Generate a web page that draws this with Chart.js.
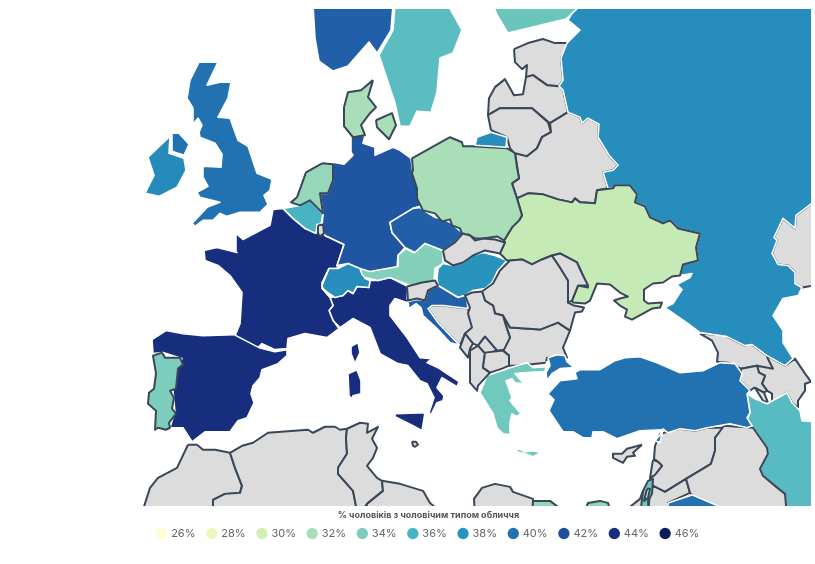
<!DOCTYPE html>
<html><head><meta charset="utf-8">
<script src="https://cdn.jsdelivr.net/npm/chart.js@4"></script>
<style>html,body{margin:0;padding:0;background:#fff}canvas{position:absolute;left:42px;top:0}</style>
</head><body><canvas id="c" width="773" height="564"></canvas>
<script>
const legendTitle = "% чоловіків з чоловічим типом обличчя";
const legendValues = [26,28,30,32,34,36,38,40,42,44,46];
const legendColors = ["#fffdd6","#ecf8b9","#d2efb3","#a9deb8","#7ccdbb","#47b3c3","#2894be","#2272b2","#1f4e9e","#172d7e","#0b1c5a"];

// outlines, in map units
const kazakhstan=[[812,203],[796,215],[795,228],[783,218],[774,237],[777,240],[772,253],[778,264],[788,265],[795,272],[795,283],[802,287],[825,283],[825,200]];
const morocco=[[188,444],[197,444],[203,449],[215,449],[230,452],[235,467],[242,485],[240,492],[225,493],[213,499],[213,515],[141,515],[150,487],[158,477],[177,467]];
const algeria=[[230,452],[242,445],[253,442],[268,432],[308,429],[313,432],[325,426],[335,426],[340,429],[347,428],[346,437],[347,453],[338,467],[338,473],[353,490],[358,515],[213,515],[213,499],[225,493],[240,492],[242,485],[235,467]];
const tunisia=[[347,428],[360,422],[368,423],[367,432],[378,426],[372,438],[377,447],[373,457],[367,465],[377,477],[382,480],[383,490],[367,503],[358,515],[353,490],[338,473],[338,467],[347,453],[346,437]];
const libyaWest=[[382,480],[400,483],[423,490],[430,502],[445,515],[365,515],[367,503],[383,490]];
const libyaEast=[[475,515],[474,498],[482,487],[495,483],[510,486],[513,491],[533,498],[533,515]];
const sinai=[[630,506],[640,498],[643,490],[648,500],[649,515],[630,515]];
const estonia=[[514,49],[528,43],[543,39],[555,43],[567,43],[568,45],[561,58],[563,80],[559,86],[547,85],[533,75],[526,77],[527,65],[522,69],[515,62]];
const latvia=[[488,115],[489,98],[495,87],[505,79],[514,95],[523,94],[526,77],[533,75],[547,85],[559,86],[563,90],[568,112],[550,123],[532,108],[500,108]];
const lithuania=[[491,130],[488,115],[500,108],[532,108],[548,122],[551,132],[542,137],[537,148],[527,156],[517,156],[510,148],[507,137]];
const belarus=[[568,112],[580,117],[582,123],[588,118],[599,124],[598,137],[609,155],[618,165],[613,170],[603,172],[608,188],[597,190],[595,203],[580,202],[575,198],[572,202],[558,199],[543,194],[528,193],[517,198],[512,183],[519,178],[515,153],[527,156],[537,148],[542,137],[551,132],[550,123]];
const bosnia=[[432,305],[443,305],[468,308],[470,317],[473,328],[465,333],[460,345],[438,322],[428,308]];
const bulgaria=[[503,315],[510,327],[525,328],[540,329],[558,322],[570,330],[563,347],[567,357],[547,357],[546,362],[517,365],[509,365],[509,355],[503,350],[510,337],[505,322]];
const georgia=[[700,333],[725,335],[745,345],[752,344],[767,355],[768,358],[773,368],[772,369],[757,365],[741,368],[728,362],[717,361],[718,352],[712,340]];
const azerbaijan=[[767,355],[785,365],[795,358],[805,373],[811,381],[805,383],[805,390],[798,400],[798,407],[792,402],[787,392],[772,402],[772,393],[767,390],[762,383],[765,375],[759,372],[757,365],[773,368],[768,358]];
const armenia=[[741,368],[757,365],[759,372],[765,375],[762,383],[767,390],[764,392],[754,387],[750,390],[740,380]];
const nakhchivan=[[755,387],[764,392],[768,402],[763,400]];
const syria=[[655,445],[660,433],[680,428],[695,430],[707,427],[724,427],[715,437],[715,450],[711,463],[686,478],[665,491],[653,485],[650,478],[655,473],[662,465],[658,461],[654,458]];
const lebanon=[[653,459],[658,461],[662,465],[655,474],[650,477]];
const jordan=[[653,485],[665,491],[686,478],[690,492],[668,502],[668,515],[648,515],[650,490]];
const cyprus=[[642,444],[633,452],[635,455],[627,456],[623,462],[613,457],[613,453],[622,453],[627,448]];
const malta=[[412,441],[416,441],[418,444],[415,446],[413,445]];
const russia=[[577,5],[568,20],[580,30],[567,43],[561,58],[563,80],[559,86],[563,90],[568,112],[580,117],[582,123],[588,118],[599,124],[598,137],[609,155],[618,165],[613,170],[603,172],[608,188],[613,188],[615,185],[630,185],[637,194],[635,202],[645,206],[650,217],[663,223],[670,220],[678,228],[700,233],[696,247],[698,260],[683,264],[680,275],[692,273],[690,277],[677,284],[682,289],[673,303],[665,307],[688,323],[700,332],[727,336],[745,345],[752,344],[767,355],[785,365],[793,358],[783,342],[783,330],[773,315],[783,298],[798,295],[802,287],[795,283],[795,272],[788,265],[778,264],[772,253],[777,240],[774,237],[783,218],[795,228],[796,215],[812,203],[825,195],[825,5]];
const kaliningrad=[[475,145],[477,137],[491,132],[507,137],[506,147]];
const finland=[[493,5],[497,15],[508,33],[566,19],[581,5]];
const sweden=[[395,5],[393,30],[379,55],[395,103],[400,126],[410,126],[417,111],[431,112],[437,92],[440,58],[453,53],[462,30],[448,5]];
const norway=[[313,5],[393,5],[391,30],[377,53],[369,42],[348,66],[333,71],[319,61],[315,38]];
const iran=[[747,393],[755,398],[767,403],[787,392],[792,402],[800,410],[802,420],[825,422],[825,515],[787,515],[785,493],[775,485],[763,475],[760,468],[768,453],[767,447],[753,427],[747,420],[750,412]];
const iraq=[[724,425],[715,437],[715,450],[711,463],[686,478],[690,492],[713,515],[787,515],[785,493],[775,485],[763,475],[760,468],[768,453],[767,447],[753,427]];
const britain=[[199,62],[218,62],[207,85],[220,82],[231,82],[228,98],[218,117],[230,118],[238,140],[248,146],[257,173],[272,179],[270,190],[264,195],[268,204],[260,212],[240,212],[227,216],[220,213],[213,220],[203,220],[195,226],[192,223],[207,207],[220,202],[200,197],[197,192],[208,186],[203,177],[203,166],[221,167],[222,154],[215,143],[200,137],[199,132],[202,125],[198,118],[193,124],[193,108],[187,98],[190,80]];
const northIreland=[[172,133],[179,133],[189,144],[184,155],[172,151]];
const ireland=[[170,136],[148,157],[154,175],[145,193],[159,196],[177,187],[186,170],[184,158],[169,153]];
const turkeyThrace=[[548,357],[557,354],[565,355],[567,361],[574,367],[560,368],[552,373],[547,380],[546,372],[550,365]];
const turkey=[[580,369],[600,369],[615,360],[625,357],[640,356],[657,362],[680,372],[703,370],[720,362],[735,363],[742,373],[740,380],[750,390],[747,393],[750,412],[747,417],[752,425],[747,427],[730,423],[707,427],[695,430],[680,428],[668,432],[663,428],[660,442],[655,440],[660,434],[662,429],[640,430],[617,438],[603,431],[593,431],[592,437],[583,437],[573,431],[563,431],[549,410],[554,399],[548,393],[560,380],[577,378],[575,372]];
const greece=[[480,392],[487,375],[510,367],[527,362],[533,367],[545,366],[547,361],[545,371],[527,372],[515,373],[524,383],[515,382],[512,378],[506,380],[512,397],[510,400],[521,413],[517,416],[512,413],[510,422],[510,434],[503,433],[497,427],[493,413]];
const crete=[[517,447],[525,451],[533,450],[541,452],[533,456],[525,453],[517,451]];
const italy=[[330,297],[343,295],[348,290],[353,293],[357,286],[369,287],[370,280],[378,280],[390,277],[408,286],[407,298],[410,303],[395,298],[390,305],[390,315],[407,337],[420,357],[432,358],[427,362],[438,367],[459,381],[457,386],[442,377],[437,387],[444,395],[443,400],[437,402],[431,414],[429,412],[434,397],[427,383],[420,380],[408,365],[398,363],[380,353],[370,327],[353,318],[340,327],[333,320],[329,310],[333,305]];
const sicily=[[395,413],[425,412],[422,430],[413,425],[395,416]];
const sardinia=[[348,373],[357,369],[361,380],[361,393],[353,395],[352,398],[349,395]];
const corsica=[[358,342],[360,352],[355,363],[351,353],[351,346]];
const france=[[204,250],[217,247],[237,252],[236,233],[243,239],[270,225],[273,209],[283,208],[293,218],[305,228],[317,227],[325,235],[344,244],[337,265],[338,268],[329,268],[322,282],[322,288],[330,297],[333,305],[329,310],[333,320],[339,328],[327,337],[305,333],[288,338],[287,348],[275,349],[262,343],[258,347],[235,335],[240,323],[242,292],[230,275],[218,265],[205,260]];
const spain=[[152,339],[166,330],[183,333],[203,335],[234,334],[259,347],[275,351],[287,349],[287,355],[278,363],[262,369],[260,377],[253,385],[251,393],[254,402],[247,417],[238,420],[230,431],[205,431],[192,441],[183,427],[170,427],[172,420],[175,412],[173,390],[178,367],[182,358],[163,352],[153,353]];
const germany=[[351,137],[351,152],[353,155],[344,164],[333,162],[333,180],[328,193],[320,193],[323,213],[322,227],[325,235],[344,244],[337,265],[348,263],[360,269],[370,272],[397,267],[398,255],[405,247],[392,232],[390,222],[413,208],[420,206],[422,203],[413,173],[411,158],[400,150],[393,147],[375,155],[375,147],[363,143],[365,135]];
const belgium=[[283,208],[300,205],[310,200],[323,213],[321,224],[317,224],[316,233],[305,228],[293,218]];
const switzerland=[[322,285],[329,268],[338,268],[348,263],[360,268],[365,278],[370,280],[369,287],[357,286],[353,293],[348,290],[343,295],[335,297],[329,293],[323,288]];
const austria=[[360,268],[370,271],[398,266],[398,255],[406,248],[413,252],[425,243],[443,250],[443,263],[435,268],[434,280],[410,285],[390,277],[378,280],[365,277],[362,274]];
const czechia=[[392,232],[390,222],[413,208],[420,207],[427,212],[435,217],[442,218],[450,222],[463,233],[455,242],[443,250],[425,243],[415,252],[405,247]];
const hungary=[[443,263],[453,265],[463,262],[473,255],[483,252],[495,255],[507,260],[498,270],[492,282],[485,288],[473,290],[465,295],[458,297],[438,285],[437,278],[438,268]];
const croatia=[[438,285],[458,297],[465,295],[467,300],[468,308],[443,305],[432,305],[428,308],[438,322],[460,345],[450,342],[437,328],[423,315],[421,307],[416,303],[409,308],[408,301],[417,299],[425,300],[428,290]];
const saudiArabia=[[668,502],[692,494],[718,505],[722,515],[668,515]];
const ukraine=[[517,198],[528,193],[543,194],[558,199],[572,202],[575,198],[580,202],[595,203],[597,190],[613,188],[615,185],[630,185],[637,194],[635,202],[645,206],[650,217],[663,223],[670,220],[678,228],[700,233],[696,247],[698,260],[683,264],[680,275],[672,276],[663,282],[653,283],[644,289],[644,300],[648,303],[662,302],[660,307],[652,308],[632,319],[625,316],[627,309],[620,305],[614,300],[620,298],[628,296],[620,292],[610,284],[597,283],[590,300],[585,303],[573,302],[572,300],[578,285],[588,287],[582,273],[577,262],[560,253],[552,255],[542,259],[532,264],[522,259],[510,260],[507,260],[500,253],[505,242],[504,240],[512,227],[519,220],[522,215]];
const poland=[[412,158],[450,137],[462,142],[463,146],[472,146],[507,148],[515,153],[517,167],[519,178],[512,183],[517,198],[522,215],[519,220],[512,227],[504,240],[497,236],[483,238],[475,238],[468,234],[463,236],[460,228],[452,225],[450,219],[442,221],[435,213],[423,210],[417,198],[417,188],[412,173],[413,170]];
const slovakia=[[443,250],[455,242],[463,233],[470,235],[475,240],[483,238],[495,239],[505,242],[500,253],[485,250],[473,255],[463,262],[453,265],[445,260]];
const romania=[[510,260],[522,259],[532,264],[542,259],[552,255],[560,267],[568,280],[568,302],[574,305],[584,307],[582,311],[575,312],[570,330],[558,322],[540,329],[525,328],[510,327],[503,315],[495,313],[493,305],[485,300],[482,291],[493,283],[500,270]];
const moldova=[[552,255],[560,253],[577,262],[582,273],[588,285],[578,285],[572,300],[568,302],[568,280],[560,267]];
const serbia=[[482,291],[485,300],[493,305],[495,313],[503,315],[505,322],[510,337],[504,349],[497,350],[485,336],[478,345],[473,343],[465,333],[472,327],[468,313],[470,307],[465,295],[472,292]];
const kosovo=[[485,336],[497,350],[485,353],[478,345]];
const montenegro=[[465,333],[473,343],[470,348],[468,357],[460,347]];
const albania=[[470,350],[478,345],[485,353],[483,367],[490,372],[478,385],[477,390],[470,382],[470,360]];
const macedonia=[[485,352],[503,350],[509,355],[509,365],[502,368],[490,372],[483,367]];
const slovenia=[[407,286],[422,282],[435,280],[438,285],[428,290],[425,300],[417,298],[408,300]];
const luxembourg=[[318,225],[323,224],[324,233],[320,236],[318,233]];
const netherlands=[[322,163],[333,164],[333,180],[328,193],[320,193],[323,213],[310,200],[300,205],[291,202],[297,197],[306,172]];
const jutland=[[373,80],[361,90],[348,92],[344,107],[344,126],[353,137],[365,135],[361,125],[370,113],[376,107],[368,97]];
const zealand=[[376,120],[392,113],[396,125],[389,139],[377,127]];
const portugal=[[162,352],[165,357],[180,357],[183,364],[178,368],[176,388],[170,390],[174,397],[172,408],[176,413],[169,422],[170,427],[166,429],[158,427],[155,429],[156,410],[148,403],[149,392],[154,388],[156,373],[153,355]];
const israel=[[643,490],[648,480],[653,478],[652,493],[648,500],[649,515],[640,515]];
const westBank=[[647,488],[650,488],[648,497],[644,500]];
const egyptWest=[[533,500],[550,500],[570,515],[532,515]];
const egyptEast=[[583,515],[588,502],[600,500],[608,502],[612,515]];

// [name, value or null when there is no data, outline, dark edge?]  listed bottom layer first
const regions=[
["Kazakhstan",null,kazakhstan,1],["Morocco",null,morocco,1],["Algeria",null,algeria,1],["Tunisia",null,tunisia,1],["Libya",null,libyaWest,1],["Libya",null,libyaEast,1],["Sinai",null,sinai,1],
["Estonia",null,estonia,1],["Latvia",null,latvia,1],["Lithuania",null,lithuania,1],["Belarus",null,belarus,1],["Bosnia",null,bosnia,1],["Bulgaria",null,bulgaria,1],["Georgia",null,georgia,1],["Azerbaijan",null,azerbaijan,1],["Armenia",null,armenia,1],["Nakhchivan",null,nakhchivan,1],["Syria",null,syria,1],["Lebanon",null,lebanon,1],["Jordan",null,jordan,1],["Cyprus",null,cyprus,1],["Malta",null,malta,1],
["Russia",38.4,russia,0],["Finland",34.6,finland,0],["Sweden",35.2,sweden,0],["Norway",41,norway,0],["Iran",35.4,iran,0],["Iraq",null,iraq,1],
["UK",40,britain,0],["UK",40,northIreland,0],["Ireland",38.6,ireland,0],["Turkey",40,turkeyThrace,0],["Turkey",40,turkey,0],["Greece",34.4,greece,0],["Greece",34.4,crete,0],
["Italy",44,italy,0],["Italy",44,sicily,0],["Italy",44,sardinia,0],["France",44,corsica,0],["France",44,france,0],["Spain",44,spain,0],
["Germany",41.6,germany,0],["Belgium",36,belgium,0],["Switzerland",38.4,switzerland,0],["Austria",33.6,austria,0],["Czechia",41,czechia,0],["Hungary",38,hungary,0],["Croatia",41,croatia,0],["Saudi Arabia",40,saudiArabia,0],
["Ukraine",30.6,ukraine,1],["Poland",32,poland,1],["Slovakia",null,slovakia,1],["Romania",null,romania,1],["Moldova",null,moldova,1],["Serbia",null,serbia,1],["Kosovo",null,kosovo,1],["Montenegro",null,montenegro,1],["Albania",null,albania,1],["Macedonia",null,macedonia,1],["Slovenia",null,slovenia,1],["Luxembourg",null,luxembourg,1],
["Netherlands",32.8,netherlands,1],["Denmark",32,jutland,1],["Denmark",32,zealand,1],["Portugal",34,portugal,1],["Israel",34.6,israel,1],["Palestine",null,westBank,1],["Egypt",33,egyptWest,1],["Egypt",33,egyptEast,1],
["Russia",38.4,kaliningrad,0]
];

function hex(c){return [1,3,5].map(i=>parseInt(c.substr(i,2),16));}
function colorOf(v){
  if(v===null) return "#dcdcdc";
  const p=Math.min(legendValues.length-2,Math.max(0,Math.floor((v-26)/2))),t=(v-legendValues[p])/2;
  const a=hex(legendColors[p]),b=hex(legendColors[p+1]);
  return "rgb("+a.map((q,i)=>Math.round(q+(b[i]-q)*t)).join(",")+")";
}
const N=regions.length;
const mapSets=regions.map((r,i)=>{
  const pts=r[2].concat([r[2][0]]).map(p=>({x:p[0],y:p[1]}));
  const col=colorOf(r[1]);
  return {label:r[0],data:pts,showLine:true,fill:'shape',tension:0,backgroundColor:col,borderColor:r[3]?"#3a4759":"#ffffff",borderWidth:r[3]?2:1.6,borderJoinStyle:'round',pointRadius:0,order:1000-i};
});
const legendSets=legendValues.map((v,i)=>({label:v+"%",data:[],backgroundColor:legendColors[i],borderColor:legendColors[i],pointBackgroundColor:legendColors[i],pointBorderColor:legendColors[i],pointBorderWidth:0,borderWidth:0,pointStyle:'circle',order:0}));

const frame={id:'frame',
  beforeDatasetsDraw(ch){const c=ch.ctx;c.save();c.beginPath();c.rect(143-42,9,811-143,506-9);c.clip();},
  afterDatasetsDraw(ch){ch.ctx.restore();}
};
new Chart(document.getElementById('c'),{
  type:'scatter',
  data:{datasets:mapSets.concat(legendSets)},
  plugins:[frame],
  options:{
    responsive:false,animation:false,devicePixelRatio:1,
    layout:{padding:{bottom:15}},
    events:[],
    scales:{x:{type:'linear',display:false,min:42,max:815},y:{type:'linear',display:false,min:0,max:506,reverse:true}},
    plugins:{
      tooltip:{enabled:false},
      legend:{position:'bottom',
        title:{display:true,text:legendTitle,color:'#555',font:{family:'Inter',size:9,weight:'bold'},padding:{top:4,bottom:-6}},
        labels:{filter:(it)=>it.datasetIndex>=N,usePointStyle:true,boxWidth:8,boxHeight:8,padding:12.3,color:'#666',font:{family:'Inter',size:11}}
      }
    }
  }
});
</script></body></html>
